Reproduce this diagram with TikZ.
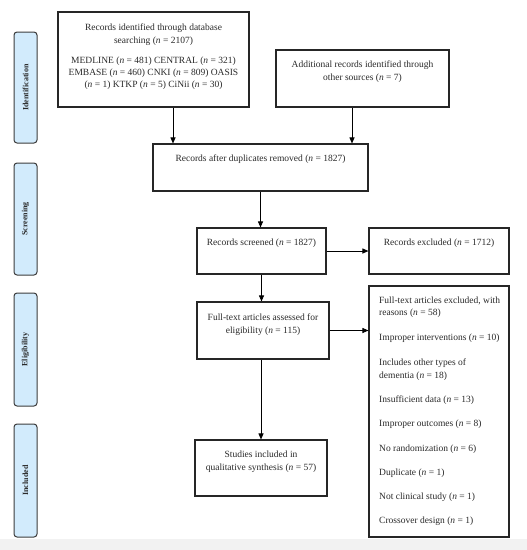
\documentclass[tikz,border=0pt]{standalone}
\usepackage{fontspec}
\setmainfont{Liberation Serif}
\usetikzlibrary{arrows.meta}
\definecolor{sidefill}{HTML}{D2EBFC}
\definecolor{sidedraw}{HTML}{3C3C3C}
\definecolor{txt}{HTML}{2A2A2A}
\tikzset{
  box/.style={draw=black!85, line width=1.1pt, inner sep=0pt, fill=white},
  side/.style={draw=sidedraw, fill=sidefill, line width=1pt, rounded corners=3pt, inner sep=0pt, minimum width=23pt},
  sidetxt/.style={rotate=90, font=\fontsize{8}{9}\selectfont\bfseries, text=txt},
  t/.style={font=\fontsize{9.5}{12.8}\selectfont, text=txt, align=center, inner sep=0pt},
  tl/.style={font=\fontsize{9.5}{12.5}\selectfont, text=txt, align=left, anchor=west, inner sep=0pt},
  arr/.style={-{Triangle[length=6pt,width=5pt]}, line width=0.9pt, black}
}
\begin{document}
\begin{tikzpicture}[x=1pt,y=-1pt]
\useasboundingbox (0,0) rectangle (527,550);
\fill[white] (0,0) rectangle (527,550);
\fill[black!5] (0,539) rectangle (527,550);
% side labels
\node[side, minimum height=111pt] (sid) at (25.5,87.5) {};
\node[sidetxt] (sidt) at (sid.center) {Identification};
\node[side, minimum height=112pt] (sscr) at (25.5,219) {};
\node[sidetxt] (sscrt) at (sscr.center) {Screening};
\node[side, minimum height=113pt] (sel) at (25.5,349.5) {};
\node[sidetxt] (selt) at (sel.center) {Eligibility};
\node[side, minimum height=113pt] (sinc) at (25.5,480.5) {};
\node[sidetxt] (sinct) at (sinc.center) {Included};
% boxes
\node[box, minimum width=191pt, minimum height=95pt] (b1) at (153.5,59.5) {};
\node[box, minimum width=173pt, minimum height=57pt] (b2) at (362.5,78.5) {};
\node[box, minimum width=215pt, minimum height=47pt] (b3) at (260.5,167.5) {};
\node[box, minimum width=129pt, minimum height=46pt] (b4) at (261.5,251) {};
\node[box, minimum width=140pt, minimum height=46pt] (b5) at (439,251) {};
\node[box, minimum width=132pt, minimum height=57pt] (b6) at (263,330.5) {};
\node[box, minimum width=140pt, minimum height=251pt] (b7) at (439,411.5) {};
\node[box, minimum width=132pt, minimum height=56pt] (b8) at (261,468) {};
% texts
\node[t] (t1a) at (153.5,35) {Records identified through database\\searching (\textit{n} = 2107)};
\node[t, font=\fontsize{9.5}{11.8}\selectfont] (t1b) at (153.5,73.3) {MEDLINE (\textit{n} = 481) CENTRAL (\textit{n} = 321)\\EMBASE (\textit{n} = 460) CNKI (\textit{n} = 809) OASIS\\(\textit{n} = 1) KTKP (\textit{n} = 5) CiNii (\textit{n} = 30)};
\node[t] (t2) at (362.5,72) {Additional records identified through\\other sources (\textit{n} = 7)};
\node[t] (t3) at (260.5,159) {Records after duplicates removed (\textit{n} = 1827)};
\node[t] (t4) at (261.5,243) {Records screened (\textit{n} = 1827)};
\node[t] (t5) at (439,243) {Records excluded (\textit{n} = 1712)};
\node[t] (t6) at (263,324.5) {Full-text articles assessed for\\eligibility (\textit{n} = 115)};
\node[t] (t8) at (261,461.5) {Studies included in\\qualitative synthesis (\textit{n} = 57)};
\node[tl] (t7a) at (379,307) {Full-text articles excluded, with\\reasons (\textit{n} = 58)};
\node[tl] (t7b) at (379,338) {Improper interventions (\textit{n} = 10)};
\node[tl] (t7c) at (379,369.5) {Includes other types of\\dementia (\textit{n} = 18)};
\node[tl] (t7d) at (379,400) {Insufficient data (\textit{n} = 13)};
\node[tl] (t7e) at (379,424) {Improper outcomes (\textit{n} = 8)};
\node[tl] (t7f) at (379,449) {No randomization (\textit{n} = 6)};
\node[tl] (t7g) at (379,473) {Duplicate (\textit{n} = 1)};
\node[tl] (t7h) at (379,497) {Not clinical study (\textit{n} = 1)};
\node[tl] (t7i) at (379,521) {Crossover design (\textit{n} = 1)};
% arrows
\draw[arr] ([xshift=19.5pt]b1.south) -- ([xshift=19.5pt]b1.south |- b3.north);
\draw[arr] ([xshift=-10.5pt]b2.south) -- ([xshift=-10.5pt]b2.south |- b3.north);
\draw[arr] (b3.south) -- (b3.south |- b4.north);
\draw[arr] (b4.east) -- (b4.east -| b5.west);
\draw[arr] (b4.south) -- (b4.south |- b6.north);
\draw[arr] (b6.east) -- (b6.east -| b7.west);
\draw[arr] (b8.north |- b6.south) -- (b8.north);
\end{tikzpicture}
\end{document}
